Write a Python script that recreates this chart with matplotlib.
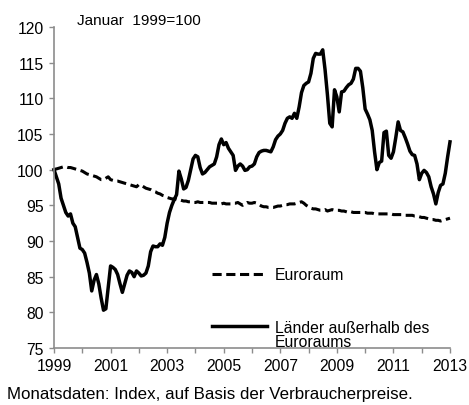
import matplotlib
matplotlib.use("Agg")
import matplotlib.pyplot as plt
import numpy as np

plt.rcParams['font.family'] = ['Liberation Sans', 'DejaVu Sans']

start_year = 1999
euro = [
    100.0, 100.1, 100.2, 100.3, 100.4, 100.4, 100.3, 100.3, 100.2, 100.1, 100.0, 99.9,
    99.8, 99.6, 99.4, 99.3, 99.2, 99.1, 99.0, 98.8, 98.6, 98.6, 98.8, 99.0,
    98.6, 98.5, 98.4, 98.4, 98.3, 98.2, 98.1, 98.0, 97.9, 97.8, 97.7, 97.6,
    97.9, 97.8, 97.6, 97.4, 97.3, 97.2, 97.0, 96.9, 96.7, 96.6, 96.4, 96.3,
    96.1, 96.0, 95.9, 95.9, 95.8, 95.8, 95.7, 95.6, 95.6, 95.5, 95.5, 95.4,
    95.4, 95.5, 95.4, 95.4, 95.4, 95.4, 95.4, 95.3, 95.3, 95.3, 95.3, 95.2,
    95.3, 95.2, 95.2, 95.2, 95.3, 95.3, 95.4, 95.2, 95.0, 95.2, 95.4, 95.3,
    95.3, 95.4, 95.3, 95.1, 94.9, 94.8, 94.8, 94.7, 94.7, 94.7, 94.8, 94.9,
    94.9, 95.0, 95.1, 95.1, 95.2, 95.2, 95.2, 95.3, 95.4, 95.5, 95.3, 95.0,
    94.8, 94.6, 94.5, 94.5, 94.4, 94.3, 94.3, 94.4, 94.2, 94.3, 94.4, 94.3,
    94.3, 94.3, 94.2, 94.2, 94.1, 94.0, 94.1, 94.0, 94.0, 94.0, 94.0, 94.0,
    94.0, 93.9, 93.9, 93.9, 93.8, 93.8, 93.8, 93.8, 93.8, 93.8, 93.8, 93.8,
    93.7, 93.7, 93.7, 93.7, 93.7, 93.6, 93.6, 93.6, 93.6, 93.5, 93.5, 93.4,
    93.3, 93.3, 93.2, 93.1, 93.0, 93.0, 92.9, 92.9, 92.8, 92.9, 93.0, 93.1,
    93.2,
]
non_euro = [
    100, 99, 98, 96, 95, 94, 93.5, 93.8, 92.5, 92, 90.5, 89,
    88.8, 88.3, 87, 85.5, 83, 84.5, 85.3, 84, 82, 80.3, 80.5, 83.5,
    86.5, 86.3, 86, 85.3, 84, 82.8, 84, 85.2, 85.8, 85.6, 85, 85.8,
    85.5, 85.1, 85.2, 85.5, 86.5, 88.5, 89.3, 89.2, 89.2, 89.6, 89.4, 90.5,
    92.5, 94, 95, 95.8, 96.5, 99.8, 98.7, 97.3, 97.5, 98.5, 100, 101.5,
    102, 101.8, 100.3, 99.4, 99.6, 100, 100.4, 100.6, 100.8, 101.8, 103.5, 104.3,
    103.5, 103.8, 103, 102.5, 102, 99.9, 100.5, 100.8, 100.5, 99.9, 100, 100.4,
    100.5, 100.8, 101.8, 102.4, 102.6, 102.7, 102.7, 102.6, 102.5, 103.2, 104.2, 104.7,
    105, 105.5, 106.5, 107.2, 107.4, 107.2, 107.9, 107.2, 108.8, 110.8, 111.8, 112.1,
    112.3, 113.5, 115.6, 116.3, 116.2, 116.2, 116.8, 114, 110.5, 106.5, 106, 111.2,
    110.2, 108.1, 110.9, 111, 111.5, 111.9, 112.1, 112.7, 114.2, 114.2, 113.8, 111.5,
    108.5, 107.8, 107, 105.5, 102.5, 100, 101, 101.2, 105.2, 105.4, 102, 101.6,
    102.5, 104.5, 106.7, 105.5, 105.3, 104.5, 103.6, 102.6, 102.1, 102, 100.8, 98.6,
    99.5, 99.9, 99.6, 99, 97.6, 96.6, 95.2, 96.8, 97.8, 98, 99.5, 101.8,
    103.9,
]
x_ticks = list(range(1999, 2014))
x_labels = [str(y) if (y - 1999) % 2 == 0 else "" for y in x_ticks]
y_ticks = [75, 80, 85, 90, 95, 100, 105, 110, 115, 120]
label_euro = "Euroraum"
label_non1 = "Länder außerhalb des"
label_non2 = "Euroraums"
title_text = "Januar  1999=100"
footer_text = "Monatsdaten: Index, auf Basis der Verbraucherpreise."

t = start_year + np.arange(len(euro)) / 12.0

W, H = 469, 406
fig = plt.figure(figsize=(W / 100, H / 100), dpi=100)
ax = fig.add_axes([54 / W, 1 - 349 / H, (450 - 54) / W, (349 - 28) / H])

gray = "#8c8c8c"
l_euro, = ax.plot(t, euro, color="black", lw=2.2, ls=(0, (3.0, 1.5)), clip_on=False,
                  dash_capstyle="butt", label=label_euro)
l_non, = ax.plot(t, non_euro, color="black", lw=2.5, clip_on=False,
                 solid_joinstyle="round", label=label_non1)

ax.set_xlim(1999, 2013)
ax.set_ylim(75, 120)
ax.set_xticks(x_ticks)
ax.set_xticklabels(x_labels)
ax.set_yticks(y_ticks)
for s in ["top", "right"]:
    ax.spines[s].set_visible(False)
for s in ["left", "bottom"]:
    ax.spines[s].set_color(gray)
    ax.spines[s].set_linewidth(1.2)
ax.tick_params(axis="both", colors=gray, labelcolor="black", labelsize=11.3,
               length=3.5, width=1.0, direction="out")
ax.tick_params(axis="y", pad=4)
ax.tick_params(axis="x", pad=4)

fig.text(77 / W, 1 - 21 / H, title_text, fontsize=11, ha="left", va="center")

leg = ax.legend(handles=[l_euro, l_non], loc="upper left",
                bbox_to_anchor=((212 - 54) / (450 - 54), 1 - (268 - 28) / (349 - 28)),
                frameon=False, fontsize=11.3, handlelength=3.5, handletextpad=0.5,
                labelspacing=2.4, borderpad=0, borderaxespad=0)
fig.canvas.draw()
tb = leg.get_texts()[1].get_window_extent()
fig.text(tb.x0 / W, (tb.y0 + 1) / H, label_non2, fontsize=11.3, ha="left", va="top")

fig.text(7 / W, 1 - 395 / H, footer_text, fontsize=12.2, ha="left", va="center")

fig.savefig("out.png", dpi=100)
